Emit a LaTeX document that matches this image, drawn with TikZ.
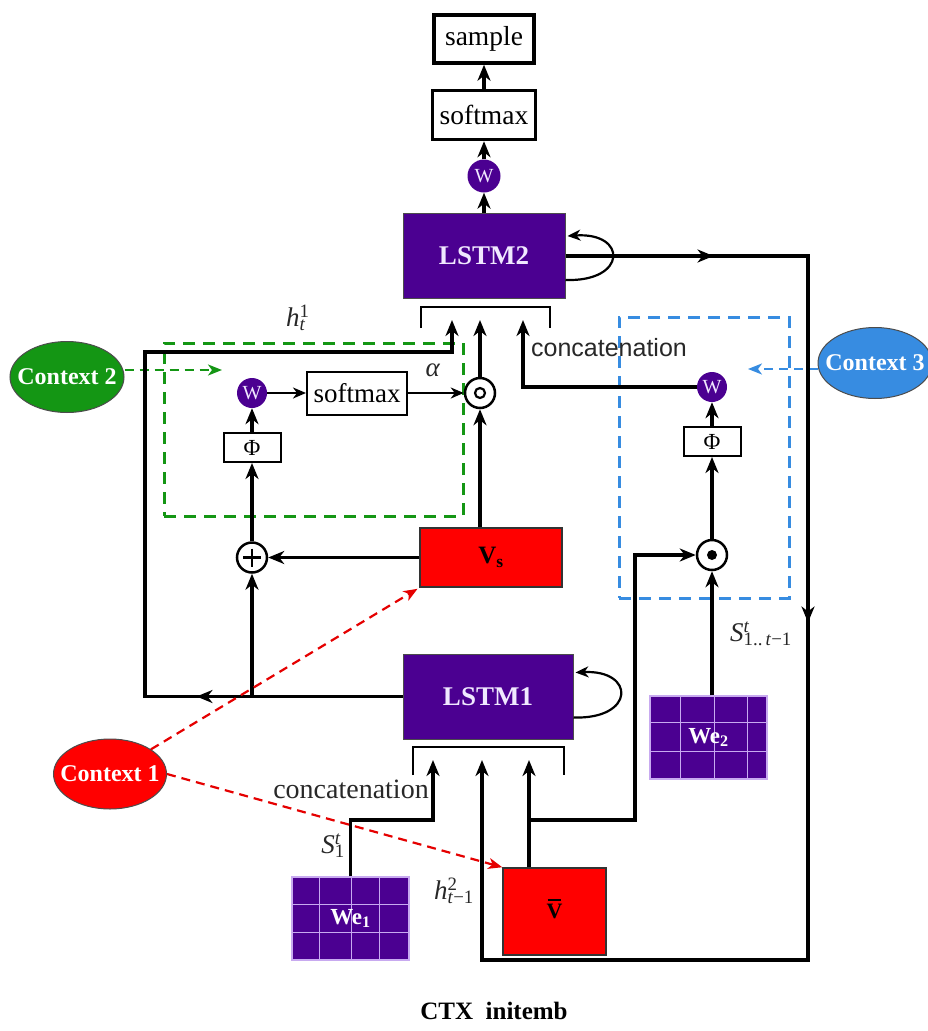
\documentclass[tikz,border=0pt]{standalone}
\usepackage{fontspec}
\setmainfont{Liberation Serif}
\setsansfont{Liberation Sans}
\usetikzlibrary{arrows.meta,shapes.geometric,calc,decorations.markings}

\definecolor{lstm}{RGB}{75,0,145}
\definecolor{lstmtxt}{RGB}{240,232,255}
\definecolor{gridln}{RGB}{200,170,240}
\definecolor{ctxred}{RGB}{255,0,0}
\definecolor{ctxgreen}{RGB}{20,150,20}
\definecolor{ctxblue}{RGB}{55,140,225}
\definecolor{lbltxt}{RGB}{40,40,40}

\newcommand\lblss[3]{\textit{#1}\rlap{\textsuperscript{#2}}\textsubscript{#3}}

\tikzset{
  bigtip/.tip={Stealth[length=16pt,width=13pt,inset=5pt]},
  smalltip/.tip={Stealth[length=13pt,width=11pt,inset=4pt]},
  conn/.style={line width=3.2pt, -bigtip},
  connthin/.style={line width=2.2pt, -smalltip},
  txtbox/.style={draw=black, line width=3.5pt, fill=white, inner sep=0pt, font=\fontsize{27.5}{30}\selectfont},
  lstmbox/.style={draw=black!70, line width=1pt, fill=lstm, text=lstmtxt, inner sep=0pt, font=\bfseries\fontsize{27}{30}\selectfont},
  wcirc/.style={circle, fill=lstm, text=lstmtxt, inner sep=0pt, font=\fontsize{20}{21}\selectfont},
  opc/.style={circle, draw=black, line width=2.5pt, fill=white, minimum size=30pt, inner sep=0pt},
  phibox/.style={draw, line width=2pt, fill=white, minimum width=57pt, minimum height=29pt, inner sep=0pt, font=\fontsize{23}{24}\selectfont},
  redbox/.style={draw=black!80, line width=1.5pt, fill=ctxred, inner sep=0pt, font=\bfseries\fontsize{25}{28}\selectfont},
  ctx/.style={ellipse, draw=black!70, line width=1pt, minimum width=114pt, minimum height=71pt, inner sep=0pt, text=white, font=\bfseries\fontsize{24}{26}\selectfont},
  gridbox/.style={fill=lstm, draw=gridln, line width=1.2pt, minimum width=117pt, minimum height=83pt, inner sep=0pt},
  gridtxt/.style={text=white, font=\bfseries\fontsize{23}{24}\selectfont},
  gridline/.style={draw=gridln, line width=1.2pt},
  lbl/.style={text=lbltxt, font=\fontsize{27}{30}\selectfont},
  brk/.style={line width=2.2pt},
  dashbox/.style={line width=3pt, dash pattern=on 12pt off 8pt, inner sep=0pt},
  reddash/.style={draw=ctxred!90!black, line width=2.2pt, dash pattern=on 9pt off 6pt, -{Stealth[length=14pt,width=11pt,inset=4pt]}},
  gdash/.style={draw=ctxgreen, line width=2.2pt, dash pattern=on 9pt off 6pt, -{Stealth[length=14pt,width=11pt,inset=4pt]}},
  bdash/.style={draw=ctxblue, line width=2.2pt, dash pattern=on 9pt off 6pt, -{Stealth[length=14pt,width=11pt,inset=4pt]}},
}

\begin{document}
\begin{tikzpicture}[x=1pt,y=-1pt]
\useasboundingbox (0,0) rectangle (927,1031);
\fill[white] (0,0) rectangle (927,1031);

% ---------- top column ----------
\node[txtbox, minimum width=100pt, minimum height=48pt] (sample) at (484,39) {sample};
\node[txtbox, minimum width=103pt, minimum height=49pt] (smA) at (484,115) {softmax};
\node[wcirc, minimum size=33pt] (W1) at (484,176) {W};
\node[lstmbox, minimum width=162pt, minimum height=85pt] (LSTM2) at (484,256) {LSTM2};

\draw[conn] (LSTM2.north) -- (W1.south);
\draw[conn] (W1.north) -- (smA.south);
\draw[conn] (smA.north) -- (sample.south);

% LSTM2 self loop
\draw[line width=2.2pt, -smalltip] ($(LSTM2.east)+(0,24)$) .. controls ($(LSTM2.east)+(62,26)$) and ($(LSTM2.east)+(62,-24)$) .. ($(LSTM2.east)+(2,-20)$);

% LSTM2 input bracket
\node[minimum width=129pt, minimum height=21pt, inner sep=0pt] (br2) at (485.5,317.5) {};
\draw[brk] (br2.south west) |- (br2.north east) -- (br2.south east);
\coordinate (in2a) at (452,320);
\coordinate (in2b) at (480,320);
\coordinate (in2c) at (523,320);

% ---------- green attention block ----------
\node[dashbox, draw=ctxgreen, minimum width=299pt, minimum height=173pt] (gbox) at (313.5,429.5) {};
\node[wcirc, minimum size=30pt] (Wg) at (252,393) {W};
\node[draw, line width=2pt, fill=white, minimum width=100pt, minimum height=43pt, inner sep=0pt, font=\fontsize{27}{30}\selectfont] (smB) at (357,393) {softmax};
\node[opc] (odA) at (480,393) {};
\draw[line width=2.2pt] (odA) circle (5pt);
\node[phibox] (PhiA) at (252,447.5) {Φ};
\node[opc] (opl) at (252,557.5) {};
\draw[line width=2.5pt] ($(opl)+(-9,0)$) -- ($(opl)+(9,0)$) ($(opl)+(0,-9)$) -- ($(opl)+(0,9)$);
\node[redbox, minimum width=142pt, minimum height=59pt] (Vs) at (491,557.5) {V\textsubscript{s}};

\draw[conn] (opl.north) -- (PhiA.south);
\draw[conn] (PhiA.north) -- (Wg.south);
\draw[connthin] (Wg.east) -- (smB.west);
\draw[connthin] (smB.east) -- (odA.west);
\draw[conn] (Vs.west) -- (opl.east);
\draw[conn] (odA |- Vs.north) -- (odA.south);
\draw[conn] (odA.north) -- (in2b);

\node[lbl] (lh1) at (296,318) {\lblss{h}{1}{\textit{t}}};
\node[lbl] (lal) at (433,370) {\textit{α}};

\node[ctx, fill=ctxgreen] (C2) at (67,377) {\makebox[0pt]{Context 2}};
\coordinate (c2end) at (222,370);
\draw[gdash] (c2end -| C2.east) -- (c2end);

% ---------- blue block ----------
\node[dashbox, draw=ctxblue, minimum width=170pt, minimum height=281pt] (bbox) at (704,457.5) {};
\node[ctx, fill=ctxblue] (C3) at (875,363) {\makebox[0pt]{Context 3}};
\coordinate (c3end) at (748,369);
\draw[bdash] (c3end -| C3.west) -- (c3end);
\node[wcirc, minimum size=30pt] (W2) at (712,387) {W};
\node[phibox] (PhiB) at (712,441.5) {Φ};
\node[opc] (odB) at (712,555) {};
\fill (odB) circle (5pt);

\node[gridbox] (We2) at (708.5,737.5) {};
\draw[gridline] ($(We2.north west)+(31,0)$) -- ($(We2.south west)+(31,0)$)
                ($(We2.north west)+(65,0)$) -- ($(We2.south west)+(65,0)$)
                ($(We2.north west)+(98,0)$) -- ($(We2.south west)+(98,0)$)
                ($(We2.north west)+(0,27)$) -- ($(We2.north east)+(0,27)$)
                ($(We2.north west)+(0,56)$) -- ($(We2.north east)+(0,56)$);
\node[gridtxt] (We2t) at (We2) {We\textsubscript{2}};

\draw[conn] (odB |- We2.north) -- (odB.south);
\draw[conn] (odB.north) -- (PhiB.south);
\draw[conn] (PhiB.north) -- (W2.south);
\draw[conn] (W2.west) -| (in2c);

\node[font=\sffamily\fontsize{25}{28}\selectfont, text=lbltxt] (cc2) at (609,348) {concatenation};
\node[lbl] (lS2) at (761,634) {\lblss{S}{\textit{t}}{1..\,\textit{t}−1}};

% ---------- LSTM1 ----------
\node[lstmbox, minimum width=170pt, minimum height=85pt] (LSTM1) at (488,696.5) {LSTM1};
\draw[line width=2.2pt, -smalltip] ($(LSTM1.east)+(0,21)$) .. controls ($(LSTM1.east)+(62,23)$) and ($(LSTM1.east)+(62,-27)$) .. ($(LSTM1.east)+(2,-24)$);
\node[minimum width=151pt, minimum height=28pt, inner sep=0pt] (br1) at (488.5,761) {};
\draw[brk] (br1.south west) |- (br1.north east) -- (br1.south east);
\coordinate (in1a) at (433,760);
\coordinate (in1b) at (482,760);
\coordinate (in1c) at (529,760);

% h_t^1 loop from LSTM1 to LSTM2
\coordinate (hc) at (145,352);
\draw[conn, postaction={decorate, decoration={markings, mark=at position 206pt with {\arrow{bigtip}}}}]
  (LSTM1.west) -| (hc) -| (in2a);
\draw[conn] (opl |- LSTM1.west) -- (opl.south);

% LSTM2 output back to LSTM1
\coordinate (rc) at (808,960);
\draw[conn, postaction={decorate, decoration={markings,
    mark=at position 148pt with {\arrow{bigtip}},
    mark=at position 609pt with {\arrow{bigtip}}}}]
  (LSTM2.east) -| (rc) -| (in1b);

% We1
\node[gridbox] (We1) at (350.5,918.5) {};
\draw[gridline] ($(We1.north west)+(28,0)$) -- ($(We1.south west)+(28,0)$)
                ($(We1.north west)+(60,0)$) -- ($(We1.south west)+(60,0)$)
                ($(We1.north west)+(88,0)$) -- ($(We1.south west)+(88,0)$)
                ($(We1.north west)+(0,28)$) -- ($(We1.north east)+(0,28)$)
                ($(We1.north west)+(0,56)$) -- ($(We1.north east)+(0,56)$);
\node[gridtxt] (We1t) at (We1) {We\textsubscript{1}};
\coordinate (w1c) at (433,820);
\draw[conn] (We1.north) |- (w1c) -- (in1a);
\node[font=\fontsize{28}{30}\selectfont, text=lbltxt] (cc1) at (351,789) {concatenation};
\node[lbl] (lS1) at (333,846) {\lblss{S}{\textit{t}}{1}};

% V bar
\node[redbox, minimum width=103pt, minimum height=87pt, font=\bfseries\fontsize{22}{24}\selectfont] (Vbar) at (554.5,911.5) {\ooalign{V\cr\hidewidth\rule[0.8em]{0.62em}{2.6pt}\hidewidth\cr}};
\coordinate (vbr) at (529,820);
\coordinate (vbc) at (635,820);
\draw[conn] (Vbar.north -| in1c) -- (in1c);
\draw[conn] (vbr) -- (vbc) |- (odB.west);
\node[lbl] (lh2) at (454,891) {\lblss{h}{2}{\textit{t}−1}};

% Context 1
\node[ctx, fill=ctxred, minimum width=113pt, minimum height=70pt] (C1) at (110,774) {\makebox[0pt]{Context 1}};
\draw[reddash, shorten >=2pt] (C1) -- (Vs.south west);
\draw[reddash] (C1.east) -- (Vbar.north west);

% title
\node[font=\bfseries\fontsize{25}{28}\selectfont] (title) at (494,1011) {CTX\ \ initemb};
\end{tikzpicture}
\end{document}
